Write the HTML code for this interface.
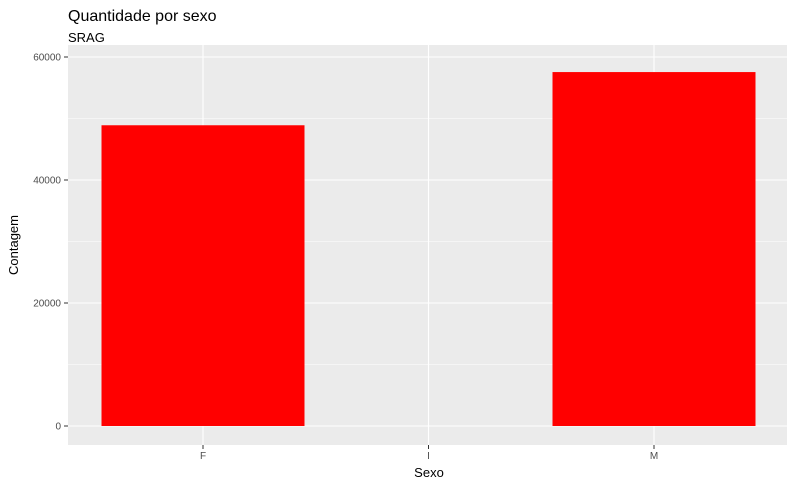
<!DOCTYPE html>
<html><head><meta charset="utf-8"><style>
body{margin:0;background:#fff;font-family:"Liberation Sans",sans-serif}
</style></head><body>
<svg id="chart" width="797" height="489" xmlns="http://www.w3.org/2000/svg" font-family="Liberation Sans, sans-serif">
<text x="68" y="21" font-size="16" fill="#000">Quantidade por sexo</text>
<text x="68" y="42" font-size="13" fill="#000">SRAG</text>
<rect x="68" y="45" width="719" height="400" fill="#ebebeb"/>
<g id="grid"></g><g id="bars"></g><g id="axes"></g>
<text x="429" y="477" font-size="13" text-anchor="middle">Sexo</text>
<text transform="translate(18,245) rotate(-90)" font-size="13" text-anchor="middle">Contagem</text>
</svg>
<script>
const categories=["F","I","M"];
const counts=[48900,0,57550];
const yTicks=[0,20000,40000,60000];
const ns="http://www.w3.org/2000/svg";
const y=v=>426-v*(123/20000);
const x=i=>203+i*225.5;
function mk(t,a,p){const e=document.createElementNS(ns,t);for(const k in a)e.setAttribute(k,a[k]);p.appendChild(e);return e;}
const g=document.getElementById('grid'),b=document.getElementById('bars'),ax=document.getElementById('axes');
for(let i=0;i<yTicks.length-1;i++){const v=(yTicks[i]+yTicks[i+1])/2;const l=mk('line',{x1:68,x2:787,y1:y(v),y2:y(v),stroke:'#fff','stroke-width':0.5},g);

}
yTicks.forEach(v=>{const l=mk('line',{x1:68,x2:787,y1:y(v),y2:y(v),stroke:'#fff','stroke-width':1.1},g);


const t=mk('line',{x1:64,x2:68,y1:y(v),y2:y(v),stroke:'#333'},ax);


const tx=mk('text',{x:61,y:y(v)+3.5,'font-size':10,fill:'#4d4d4d','text-anchor':'end'},ax);tx.textContent=v;

});
categories.forEach((c,i)=>{const l=mk('line',{x1:x(i),x2:x(i),y1:45,y2:445,stroke:'#fff','stroke-width':1.1},g);


const r=mk('rect',{x:x(i)-101.5,width:203,y:y(counts[i]),height:y(0)-y(counts[i]),fill:'#ff0000'},b);


const t=mk('line',{x1:x(i),x2:x(i),y1:445,y2:449,stroke:'#333'},ax);


const tx=mk('text',{x:x(i),y:459,'font-size':10,fill:'#4d4d4d','text-anchor':'middle'},ax);tx.textContent=c;

});
</script>
</body></html>
